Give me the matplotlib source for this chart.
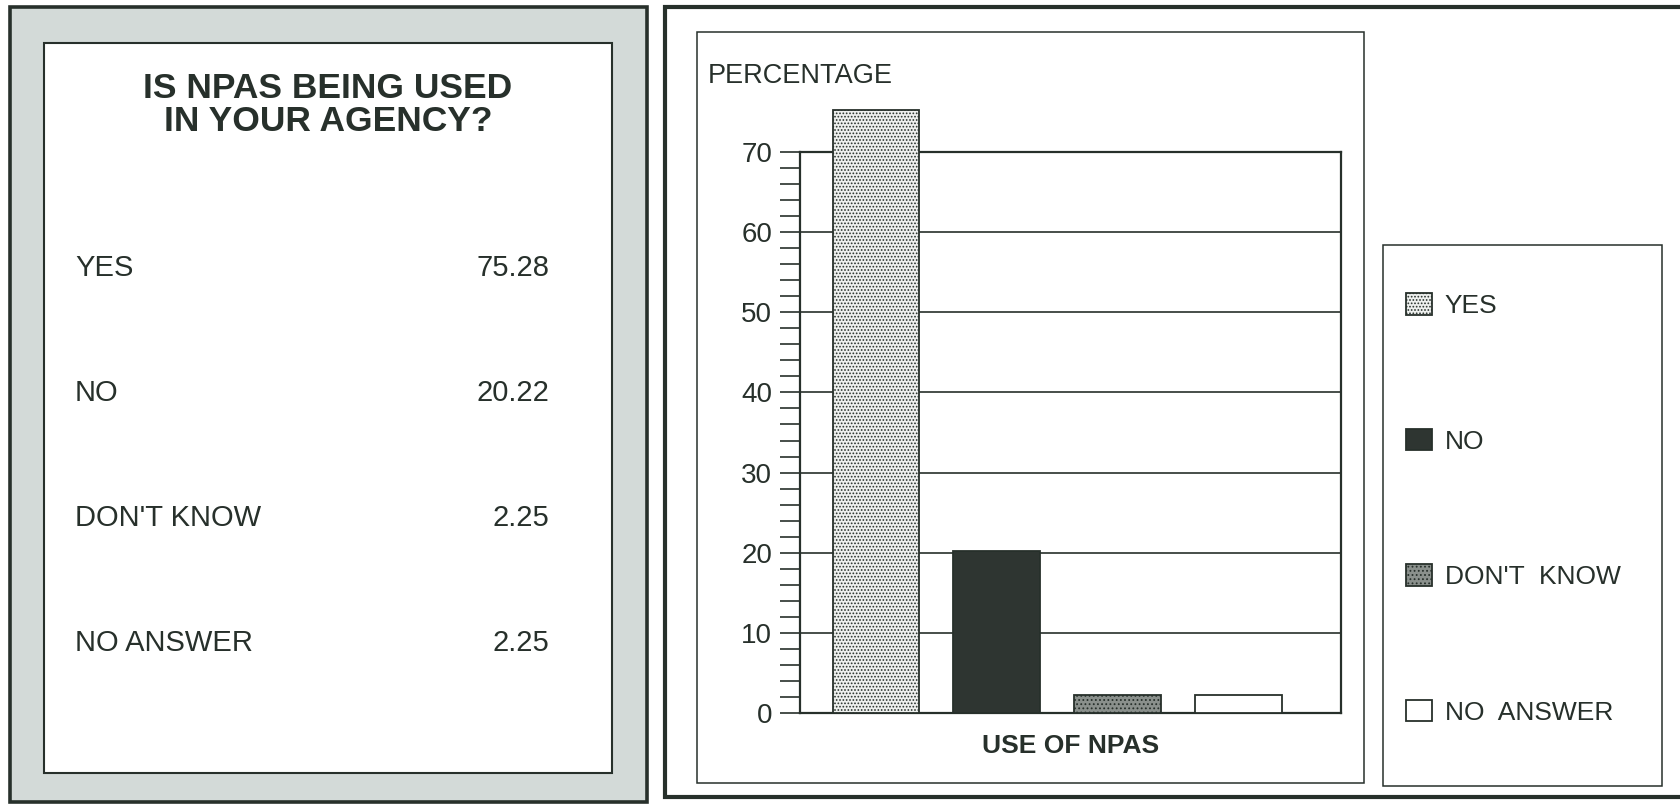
import matplotlib
matplotlib.use("Agg")
import matplotlib.pyplot as plt
from matplotlib.patches import Rectangle
from matplotlib.ticker import MultipleLocator

# Survey answers and their shares (percent)
categories = ["YES", "NO", "DON'T KNOW", "NO ANSWER"]
percentages = [75.28, 20.22, 2.25, 2.25]
y_ticks = [0, 10, 20, 30, 40, 50, 60, 70]
title_lines = ["IS NPAS BEING USED", "IN YOUR AGENCY?"]
y_label = "PERCENTAGE"
x_label = "USE OF NPAS"

# Styling
INK = "#27302b"
PANEL_GRAY = "#d3dad8"
bar_faces = ["#eef0ee", "#2e3531", "#8a908c", "#ffffff"]
bar_hatches = [".....", None, "....", None]

W, H = 1680, 805
plt.rcParams["font.family"] = ["Liberation Sans", "DejaVu Sans"]
plt.rcParams["hatch.linewidth"] = 0.8
plt.rcParams["hatch.color"] = INK

fig = plt.figure(figsize=(W / 100, H / 100), dpi=100, facecolor="white")


def fx(x):
    return x / W


def fy(y):
    return 1 - y / H


def box(x0, y0, x1, y1, face, lw):
    fig.add_artist(Rectangle((fx(x0), fy(y1)), fx(x1) - fx(x0), fy(y0) - fy(y1),
                             transform=fig.transFigure, facecolor=face,
                             edgecolor=INK, linewidth=lw, zorder=-10))


# ---- left panel: table of answers ----
box(10, 7, 647, 802, PANEL_GRAY, 2.6)
box(44, 43, 612, 773, "white", 1.5)

for i, line in enumerate(title_lines):
    fig.text(fx(328), fy(98 + i * 33), line, ha="center", va="baseline",
             fontsize=25.5, fontweight="bold", color=INK)

for i, (cat, val) in enumerate(zip(categories, percentages)):
    base = 266 + i * 124.7 + 10.5
    fig.text(fx(75), fy(base), cat, ha="left", va="baseline",
             fontsize=21, color=INK)
    fig.text(fx(549), fy(base), f"{val:.2f}", ha="right", va="baseline",
             fontsize=21, color=INK)

# ---- right panel: bar chart ----
box(665, 7, 1720, 797, "white", 3.0)
box(697, 32, 1364, 783, "white", 1.1)
box(1383, 245, 1662, 786, "white", 1.1)

ax = fig.add_axes([fx(800), fy(713), fx(1341) - fx(800), fy(152) - fy(713)])
ax.set_facecolor("white")
for i, (cat, val, face, hatch) in enumerate(zip(categories, percentages, bar_faces, bar_hatches)):
    ax.bar(i, val, width=0.72, color=face, edgecolor=INK, hatch=hatch,
           linewidth=1.3, label=cat, clip_on=False, zorder=3)

ax.set_xlim(-0.63, 3.853)
ax.set_ylim(0, 70)
ax.set_yticks(y_ticks)
ax.yaxis.set_minor_locator(MultipleLocator(2))
ax.yaxis.grid(True, which="major", color=INK, linewidth=1.2)
ax.set_axisbelow(True)
ax.tick_params(axis="y", which="both", direction="out", length=14.5, width=1.2,
               color=INK, labelsize=20, labelcolor=INK, pad=5.5)
ax.tick_params(axis="x", which="both", bottom=False, labelbottom=False)
for sp in ax.spines.values():
    sp.set_color(INK)
    sp.set_linewidth(1.6)

ax.set_xlabel(x_label, fontsize=19, fontweight="bold", color=INK, labelpad=15)
fig.text(fx(708), fy(83), y_label, ha="left", va="baseline", fontsize=19.5, color=INK)

handles, labels = ax.get_legend_handles_labels()
fig.legend(handles, [l.replace(" ", "  ") for l in labels],
           loc="center left", bbox_to_anchor=(fx(1406), fy(509)),
           frameon=False, fontsize=19, labelspacing=4.2,
           handlelength=0.985, handleheight=0.87, handletextpad=0.49,
           borderpad=0, borderaxespad=0, labelcolor=INK)

fig.savefig("out.png", dpi=100)
